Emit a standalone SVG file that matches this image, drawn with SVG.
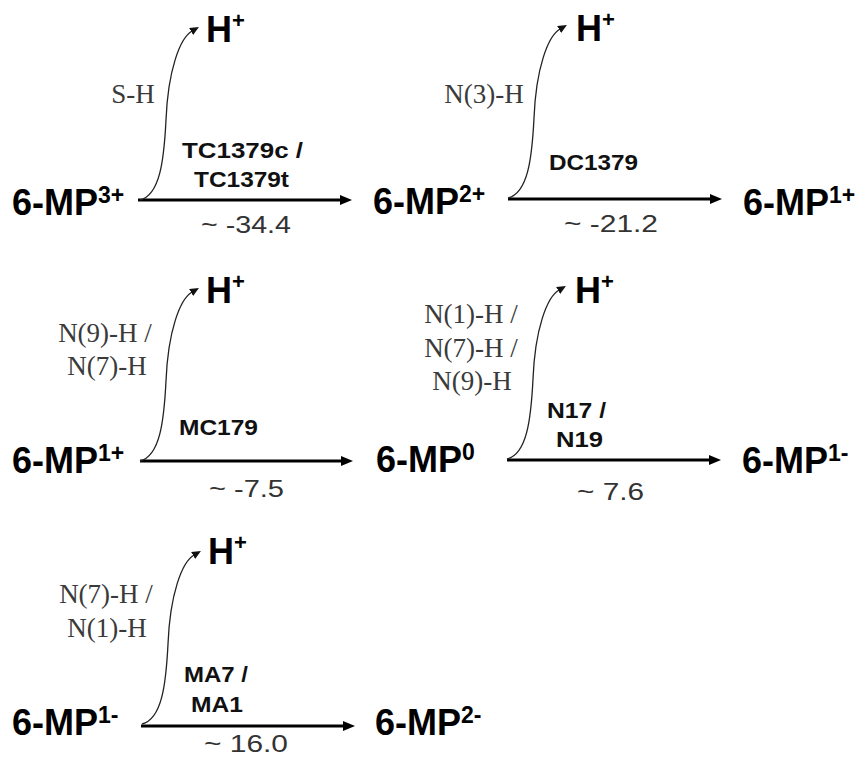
<svg xmlns="http://www.w3.org/2000/svg" width="860" height="761" viewBox="0 0 860 761">
<style>
.mp{font-family:"Liberation Sans",Arial,sans-serif;font-weight:bold;font-size:36px;fill:#000}
.sup{font-size:23px}
.h{font-family:"Liberation Sans",Arial,sans-serif;font-weight:bold;font-size:36px;fill:#000}
.hs{font-size:22px}
.lbl{font-family:"Liberation Serif","Times New Roman",serif;font-size:27px;fill:#3a3a3a;text-anchor:middle}
.bl{font-family:"Liberation Sans",Arial,sans-serif;font-weight:bold;font-size:22px;fill:#111}
.val{font-family:"Liberation Sans",Arial,sans-serif;font-size:24px;fill:#333}
.main{stroke:#000;stroke-width:3;fill:none;marker-end:url(#ah)}
.curve{stroke:#222;stroke-width:1.3;fill:none;marker-end:url(#ahs)}
</style>
<defs>
<marker id="ah" viewBox="0 0 12 10" refX="1" refY="5" markerWidth="12" markerHeight="10" markerUnits="userSpaceOnUse" orient="auto"><path d="M0,0 L12,5 L0,10 z" fill="#000"/></marker>
<marker id="ahs" viewBox="0 0 9 8" refX="1" refY="4" markerWidth="9" markerHeight="8" markerUnits="userSpaceOnUse" orient="auto"><path d="M0,0 L9,4 L0,8 z" fill="#111"/></marker>
<path id="crv" d="M0,0 C20,-5 24,-40 26,-80 C28,-130 40,-162 52,-169"/>
</defs>
<g id="connectors">
<line class="main" x1="138" y1="200" x2="341" y2="200"/>
<line class="main" x1="508" y1="199" x2="711" y2="199"/>
<line class="main" x1="140" y1="461" x2="342" y2="461"/>
<line class="main" x1="507" y1="460" x2="710" y2="460"/>
<line class="main" x1="141" y1="726" x2="344" y2="726"/>
<use href="#crv" class="curve" transform="translate(140,200)"/>
<use href="#crv" class="curve" transform="translate(508,198)"/>
<use href="#crv" class="curve" transform="translate(140,461)"/>
<use href="#crv" class="curve" transform="translate(507,459)"/>
<use href="#crv" class="curve" transform="translate(142,724)"/>
</g>
<g id="mp3p"><text class="mp" x="12" y="215">6-MP<tspan class="sup" dy="-12">3+</tspan></text></g>
<g id="mp2p"><text class="mp" x="373" y="214">6-MP<tspan class="sup" dy="-12">2+</tspan></text></g>
<g id="mp1p_a"><text class="mp" x="743" y="215">6-MP<tspan class="sup" dy="-12">1+</tspan></text></g>
<g id="mp1p_b"><text class="mp" x="12" y="473">6-MP<tspan class="sup" dy="-12">1+</tspan></text></g>
<g id="mp0"><text class="mp" x="376" y="472">6-MP<tspan class="sup" dy="-12">0</tspan></text></g>
<g id="mp1m_a"><text class="mp" x="742" y="473">6-MP<tspan class="sup" dy="-12">1-</tspan></text></g>
<g id="mp1m_b"><text class="mp" x="12" y="735">6-MP<tspan class="sup" dy="-12">1-</tspan></text></g>
<g id="mp2m"><text class="mp" x="375" y="735">6-MP<tspan class="sup" dy="-12">2-</tspan></text></g>
<g id="h1"><text class="h" x="206" y="42">H<tspan class="hs" dy="-14">+</tspan></text></g>
<g id="h2"><text class="h" x="576" y="41">H<tspan class="hs" dy="-14">+</tspan></text></g>
<g id="h3"><text class="h" x="206" y="303">H<tspan class="hs" dy="-14">+</tspan></text></g>
<g id="h4"><text class="h" x="575" y="303">H<tspan class="hs" dy="-14">+</tspan></text></g>
<g id="h5"><text class="h" x="208" y="564">H<tspan class="hs" dy="-14">+</tspan></text></g>
<g id="labels">
<text class="lbl" x="133" y="103">S-H</text>
<text class="lbl" x="484" y="103">N(3)-H</text>
<text class="lbl" x="105" y="342">N(9)-H /</text>
<text class="lbl" x="107" y="375">N(7)-H</text>
<text class="lbl" x="471" y="323">N(1)-H /</text>
<text class="lbl" x="471" y="357">N(7)-H /</text>
<text class="lbl" x="472" y="390">N(9)-H</text>
<text class="lbl" x="106" y="603">N(7)-H /</text>
<text class="lbl" x="107" y="637">N(1)-H</text>
<text class="bl" x="182" y="158" textLength="121" lengthAdjust="spacingAndGlyphs">TC1379c /</text>
<text class="bl" x="194" y="187" textLength="95" lengthAdjust="spacingAndGlyphs">TC1379t</text>
<text class="bl" x="549" y="170" textLength="89" lengthAdjust="spacingAndGlyphs">DC1379</text>
<text class="bl" x="179" y="435" textLength="79" lengthAdjust="spacingAndGlyphs">MC179</text>
<text class="bl" x="547" y="418" textLength="59" lengthAdjust="spacingAndGlyphs">N17 /</text>
<text class="bl" x="556" y="447" textLength="47" lengthAdjust="spacingAndGlyphs">N19</text>
<text class="bl" x="184" y="682" textLength="64" lengthAdjust="spacingAndGlyphs">MA7 /</text>
<text class="bl" x="191" y="712" textLength="52" lengthAdjust="spacingAndGlyphs">MA1</text>
<text class="val" x="201" y="233" textLength="90" lengthAdjust="spacingAndGlyphs">~ -34.4</text>
<text class="val" x="564" y="232" textLength="94" lengthAdjust="spacingAndGlyphs">~ -21.2</text>
<text class="val" x="209" y="497" textLength="75" lengthAdjust="spacingAndGlyphs">~ -7.5</text>
<text class="val" x="577" y="500" textLength="67" lengthAdjust="spacingAndGlyphs">~ 7.6</text>
<text class="val" x="204" y="752" textLength="84" lengthAdjust="spacingAndGlyphs">~ 16.0</text>
</g>
</svg>
